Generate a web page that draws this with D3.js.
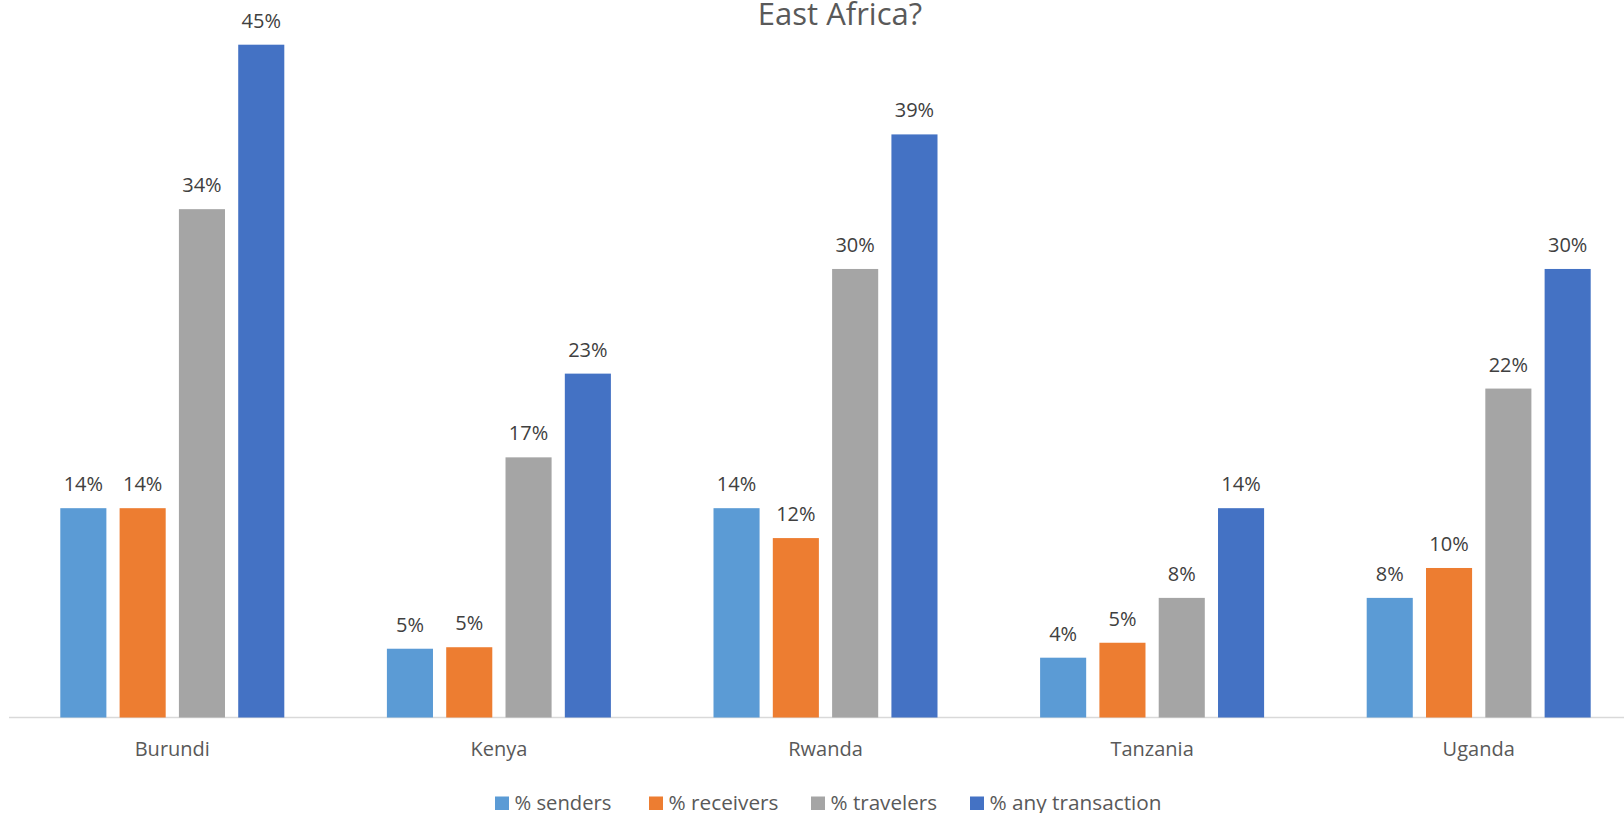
<!DOCTYPE html>
<html>
<head>
<meta charset="utf-8">
<script src="https://cdn.jsdelivr.net/npm/d3@7"></script>
<style>
  html, body { margin: 0; padding: 0; background: #fff; }
  svg { display: block; }
  text { font-family: "Open Sans", sans-serif; }
</style>
</head>
<body>
<svg id="chart" width="1624" height="813"></svg>
<script>
const categories = ["Burundi", "Kenya", "Rwanda", "Tanzania", "Uganda"];
const seriesNames = ["% senders", "% receivers", "% travelers", "% any transaction"];
const senders     = [0.14, 0.046, 0.14, 0.04, 0.08];
const receivers   = [0.14, 0.047, 0.12, 0.05, 0.10];
const travelers   = [0.34, 0.174, 0.30, 0.08, 0.22];
const anyTrans    = [0.45, 0.23, 0.39, 0.14, 0.30];
const dataLabels  = [
  ["14%", "5%", "14%", "4%", "8%"],
  ["14%", "5%", "12%", "5%", "10%"],
  ["34%", "17%", "30%", "8%", "22%"],
  ["45%", "23%", "39%", "14%", "30%"]
];
const colors = ["#5B9BD5", "#ED7D31", "#A5A5A5", "#4472C4"];
const titleText = "East Africa?";

const seriesValues = [senders, receivers, travelers, anyTrans];

const svg = d3.select("#chart");
const axisY = 717.5;
const x0 = d3.scaleBand().domain(categories).range([9, 1642]).padding(0);
const groupW = 224;
const x1 = d3.scaleBand().domain(seriesNames).range([0, groupW]).paddingInner(0.223).paddingOuter(0);
const y = d3.scaleLinear().domain([0, 0.45]).range([axisY, 44.7]);

// axis line
svg.append("line")
  .attr("x1", 9).attr("x2", 1624)
  .attr("y1", axisY).attr("y2", axisY)
  .attr("stroke", "#D9D9D9").attr("stroke-width", 1.5);

const groups = svg.selectAll("g.cat")
  .data(categories)
  .join("g")
  .attr("class", "cat")
  .attr("transform", c => `translate(${x0(c) + (x0.bandwidth() - groupW) / 2},0)`);

seriesNames.forEach((s, si) => {
  groups.append("rect")
    .attr("x", x1(s))
    .attr("width", x1.bandwidth())
    .attr("y", (c, ci) => y(seriesValues[si][ci]))
    .attr("height", (c, ci) => axisY - y(seriesValues[si][ci]))
    .attr("fill", colors[si]);
  groups.append("text")
    .attr("x", x1(s) + x1.bandwidth() / 2)
    .attr("y", (c, ci) => y(seriesValues[si][ci]) - 17)
    .attr("text-anchor", "middle")
    .attr("font-size", 20)
    .attr("fill", "#404040")
    .text((c, ci) => dataLabels[si][ci]);
});

// category labels
svg.selectAll("text.catlabel")
  .data(categories)
  .join("text")
  .attr("class", "catlabel")
  .attr("x", c => x0(c) + x0.bandwidth() / 2)
  .attr("y", 755.5)
  .attr("text-anchor", "middle")
  .attr("font-size", 20)
  .attr("fill", "#595959")
  .text(c => c);

// title
svg.append("text")
  .attr("x", 840).attr("y", 25)
  .attr("text-anchor", "middle")
  .attr("font-size", 31)
  .attr("fill", "#595959")
  .text(titleText);

// legend
const legendX = [495, 649, 811, 970];
const legendW = [97, 110, 106.5, 172];
const lg = svg.append("g");
seriesNames.forEach((s, i) => {
  lg.append("rect")
    .attr("x", legendX[i]).attr("y", 796.5)
    .attr("width", 14).attr("height", 13.5)
    .attr("fill", colors[i]);
  lg.append("text")
    .attr("x", legendX[i] + 19.5).attr("y", 809.5)
    .attr("font-size", 20)
    .attr("fill", "#595959")
    .attr("textLength", legendW[i])
    .attr("lengthAdjust", "spacingAndGlyphs")
    .text(s);
});
</script>
</body>
</html>
